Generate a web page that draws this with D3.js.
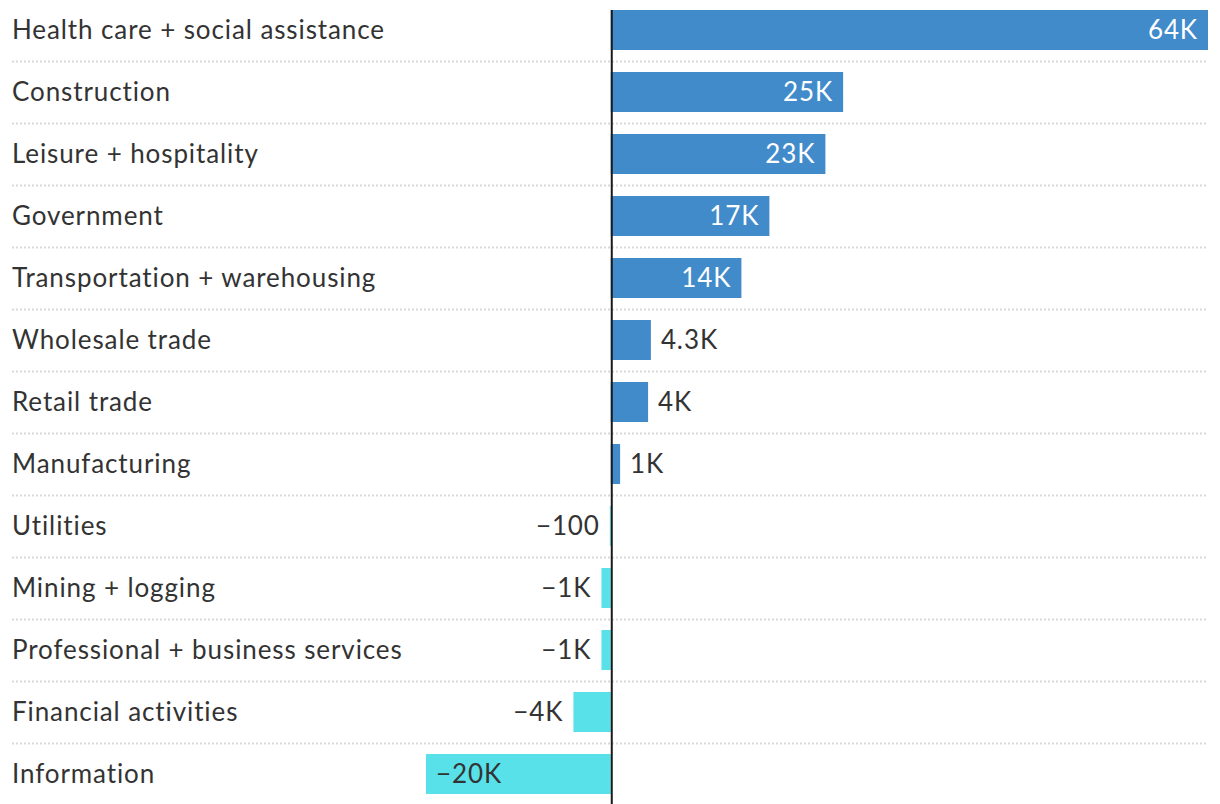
<!DOCTYPE html>
<html>
<head>
<meta charset="utf-8">
<script src="https://cdn.jsdelivr.net/npm/d3@7"></script>
<style>
  html, body { margin: 0; padding: 0; background: #fff; }
  svg { display: block; }
  text { font-family: Lato, "Open Sans", sans-serif; letter-spacing: 0.9px; }
</style>
</head>
<body>
<svg id="chart" width="1220" height="804"></svg>
<script>
const categories = [
  "Health care + social assistance",
  "Construction",
  "Leisure + hospitality",
  "Government",
  "Transportation + warehousing",
  "Wholesale trade",
  "Retail trade",
  "Manufacturing",
  "Utilities",
  "Mining + logging",
  "Professional + business services",
  "Financial activities",
  "Information"
];
const values = [64000, 24900, 23000, 17000, 14000, 4300, 4000, 1000, -100, -1000, -1000, -4000, -19800];
const valueLabels = ["64K", "25K", "23K", "17K", "14K", "4.3K", "4K", "1K", "\u2212100", "\u22121K", "\u22121K", "\u22124K", "\u221220K"];

const W = 1220, H = 804;
const svg = d3.select("#chart");

const x = d3.scaleLinear().domain([d3.min(values), d3.max(values)]).range([426, 1208]);
const row = d3.scaleBand().domain(categories).range([0, 806]).padding(0);
const barTop = 10, barH = 40;
const FS = 26;

const data = categories.map((c, i) => ({ c, v: values[i], label: valueLabels[i] }));

// separators
svg.append("g").selectAll("line")
  .data(categories.slice(0, -1))
  .join("line")
  .attr("x1", 12).attr("x2", 1208)
  .attr("y1", d => row(d) + 61.5).attr("y2", d => row(d) + 61.5)
  .attr("stroke", "#d9d9d9").attr("stroke-width", 2)
  .attr("stroke-dasharray", "2,2");

// category labels
svg.append("g").selectAll("text")
  .data(data)
  .join("text")
  .attr("x", 12)
  .attr("y", d => row(d.c) + barTop + barH / 2 + 8.5)
  .attr("font-size", FS)
  .attr("fill", "#333")
  .text(d => d.c);

// bars
svg.append("g").selectAll("rect")
  .data(data)
  .join("rect")
  .attr("x", d => Math.min(x(0), x(d.v)))
  .attr("width", d => Math.abs(x(d.v) - x(0)))
  .attr("y", d => row(d.c) + barTop)
  .attr("height", barH)
  .attr("fill", d => d.v >= 0 ? "#418bcb" : "#58e1e8");

// value labels
svg.append("g").selectAll("text")
  .data(data)
  .join("text")
  .each(function(d) {
    const w = Math.abs(x(d.v) - x(0));
    const inside = w > 100;
    const t = d3.select(this);
    t.attr("y", row(d.c) + barTop + barH / 2 + 8.5).attr("font-size", FS);
    if (d.v >= 0) {
      if (inside) t.attr("x", x(d.v) - 10).attr("text-anchor", "end").attr("fill", "#fff");
      else t.attr("x", x(d.v) + 10).attr("text-anchor", "start").attr("fill", "#333");
    } else {
      if (inside) t.attr("x", x(d.v) + 10).attr("text-anchor", "start").attr("fill", "#333");
      else t.attr("x", x(d.v) - 10).attr("text-anchor", "end").attr("fill", "#333");
    }
    t.text(d.label);
  });

// zero line
svg.append("line")
  .attr("x1", x(0) + 1).attr("x2", x(0) + 1)
  .attr("y1", barTop).attr("y2", H)
  .attr("stroke", "#1a1a1a").attr("stroke-width", 2);
</script>
</body>
</html>
